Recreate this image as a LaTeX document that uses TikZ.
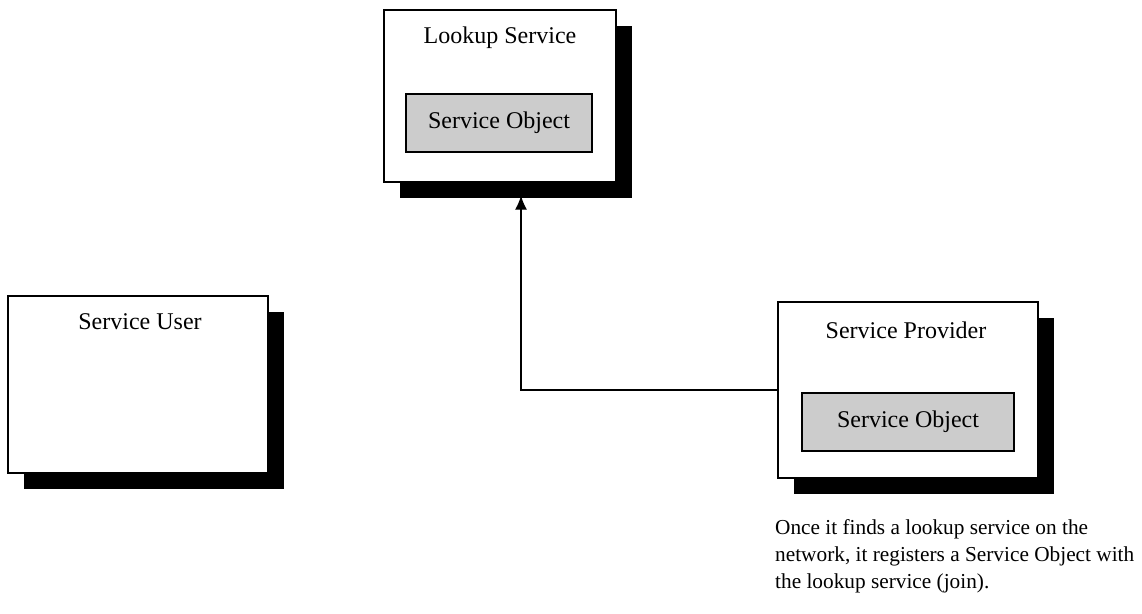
\documentclass[tikz,border=0pt]{standalone}
\usepackage{fontspec}
\setmainfont{Liberation Serif}
\usetikzlibrary{arrows.meta,shadows}
\begin{document}
\begin{tikzpicture}[x=1pt,y=-1pt,
  box/.style={draw=black,line width=1.4pt,fill=white,inner sep=0pt,
    drop shadow={shadow xshift=16pt,shadow yshift=-16pt,fill=black,opacity=1}},
  objbox/.style={draw=black,line width=1.4pt,fill=black!20,inner sep=0pt,
    minimum width=#1,minimum height=58pt,font=\fontsize{24}{28}\selectfont},
  lbl/.style={inner sep=0pt,font=\fontsize{24}{28}\selectfont},
  conn/.style={draw=black,line width=1.3pt},
  note/.style={inner sep=0pt,align=left,anchor=north west,
    font=\fontsize{21.3}{27}\selectfont}]
\useasboundingbox (0,0) rectangle (1142,613);
% Lookup Service
\node[box,minimum width=232pt,minimum height=172pt] (lookup) at (500,96) {};
\node[lbl] (lookuplbl) at (500,38) {Lookup Service};
\node[objbox=186pt] (lookupobj) at (499,123) {Service Object};
% Service User
\node[box,minimum width=260pt,minimum height=177pt] (user) at (138,384.5) {};
\node[lbl] (userlbl) at (140,322) {Service User};
% Service Provider
\node[box,minimum width=260pt,minimum height=176pt] (provider) at (908,390) {};
\node[lbl] (providerlbl) at (906,330) {Service Provider};
\node[objbox=212pt] (providerobj) at (908,422) {Service Object};
% connector
\coordinate (bend) at (521,390);
\draw[conn,-{Latex[length=14pt,width=12pt]}] (provider.west |- bend) -- (bend) -- ([yshift=-13pt]bend |- lookup.south);
% note
\node[note] (note) at (775,519) {Once it finds a lookup service on the\\network, it registers a Service Object with\\the lookup service (join).};
\end{tikzpicture}
\end{document}
